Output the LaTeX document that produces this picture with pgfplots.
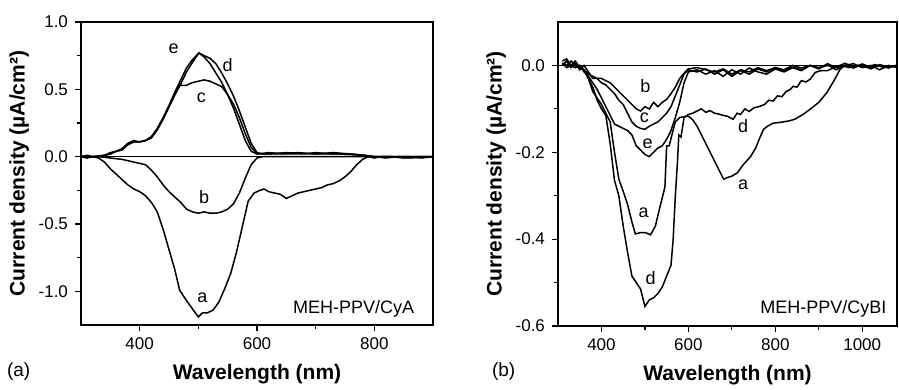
\documentclass[border=0pt]{standalone}
\usepackage{fontspec}
\setmainfont{Liberation Sans}
\usepackage{pgfplots}
\pgfplotsset{compat=1.18}
\begin{document}
\begin{tikzpicture}
\pgfplotsset{
  curve/.style={black, solid, line width=0.75pt, mark=none},
  common/.style={
    scale only axis,
    axis line style={black, line width=0.6pt},
    tick align=outside,
    xtick pos=bottom, ytick pos=left,
    major tick length=3pt, minor tick length=2pt,
    tick style={black, line width=0.6pt},
    tick label style={font=\fontsize{8.5}{10}\selectfont},
    label style={font=\fontsize{10.5}{12}\selectfont\bfseries},
    /pgf/number format/assume math mode=true,
    /pgf/number format/1000 sep={},
    clip=false,
  },
}
\path[use as bounding box] (0pt,0pt) rectangle (449.5pt,195pt);
% ---------------- panel (a) ----------------
\begin{axis}[common,
  at={(40.5pt,32.5pt)}, anchor=south west,
  width=176pt, height=151.5pt,
  xmin=300, xmax=900, ymin=-1.25, ymax=1.0,
  xtick={400,600,800}, minor xtick={500,700},
  ytick={-1,-0.5,0,0.5,1}, yticklabels={-1.0,-0.5,0.0,0.5,1.0},
  minor ytick={-0.75,-0.25,0.25,0.75},
  xlabel={Wavelength (nm)},
  ylabel={Current density (µA/cm²)},
  ylabel style={yshift=-2pt},
]
\addplot[black, line width=0.5pt, mark=none] coordinates {(300,0) (900,0)};
% e
\addplot[curve] coordinates {(300,0.00) (310,-0.01) (320,0.00) (330,0.00) (340,0.01) (350,0.03) (360,0.04) (370,0.06) (380,0.10) (390,0.12) (400,0.11) (410,0.12) (420,0.15) (430,0.21) (440,0.29) (450,0.38) (460,0.48) (470,0.57) (480,0.66) (490,0.72) (501,0.77) (510,0.74) (520,0.69) (530,0.62) (540,0.55) (550,0.46) (560,0.36) (570,0.24) (580,0.12) (590,0.04) (600,0.02) (620,0.03) (650,0.02) (680,0.02) (700,0.03) (730,0.02) (760,0.02) (780,0.01) (800,0.00) (820,-0.01) (840,0.00) (860,0.00) (880,-0.01) (900,0.00)};
% d
\addplot[curve] coordinates {(300,0.00) (320,0.00) (340,0.01) (350,0.02) (360,0.04) (370,0.05) (380,0.09) (390,0.11) (400,0.11) (410,0.12) (420,0.14) (430,0.20) (440,0.28) (450,0.37) (460,0.46) (470,0.54) (480,0.63) (490,0.70) (501,0.77) (510,0.75) (520,0.73) (530,0.69) (540,0.62) (550,0.54) (560,0.45) (570,0.34) (580,0.22) (590,0.10) (600,0.03) (610,0.02) (640,0.02) (670,0.03) (700,0.02) (730,0.03) (760,0.02) (785,0.01) (800,0.00) (830,0.00) (860,-0.01) (900,0.00)};
% c
\addplot[curve] coordinates {(300,0.00) (320,0.00) (340,0.01) (350,0.02) (360,0.04) (370,0.05) (380,0.09) (390,0.11) (400,0.11) (410,0.12) (420,0.14) (430,0.20) (440,0.28) (450,0.37) (460,0.46) (468,0.53) (480,0.53) (490,0.55) (500,0.56) (510,0.57) (520,0.56) (530,0.54) (540,0.52) (550,0.46) (560,0.39) (570,0.29) (580,0.17) (590,0.07) (600,0.02) (620,0.02) (650,0.03) (700,0.02) (740,0.02) (780,0.01) (800,0.00) (850,0.00) (900,0.00)};
% b
\addplot[curve] coordinates {(300,0.00) (330,0.00) (350,-0.01) (370,-0.02) (380,-0.03) (390,-0.04) (400,-0.05) (410,-0.06) (420,-0.10) (430,-0.15) (440,-0.21) (450,-0.26) (460,-0.30) (470,-0.34) (480,-0.39) (490,-0.41) (500,-0.42) (510,-0.41) (520,-0.42) (530,-0.42) (540,-0.41) (550,-0.39) (560,-0.35) (570,-0.27) (580,-0.16) (590,-0.06) (600,-0.01) (610,0.00) (650,0.00) (700,0.00) (800,0.00) (900,0.00)};
% a
\addplot[curve] coordinates {(300,0.00) (310,0.01) (320,0.00) (330,-0.01) (340,-0.04) (350,-0.09) (360,-0.13) (370,-0.17) (380,-0.21) (390,-0.24) (400,-0.26) (410,-0.29) (420,-0.34) (430,-0.41) (440,-0.54) (450,-0.69) (460,-0.84) (468,-0.99) (480,-1.07) (490,-1.13) (500,-1.19) (507,-1.16) (515,-1.16) (525,-1.14) (535,-1.08) (545,-0.98) (555,-0.87) (565,-0.71) (575,-0.52) (585,-0.33) (595,-0.27) (605,-0.25) (612,-0.24) (620,-0.26) (630,-0.27) (640,-0.28) (650,-0.31) (660,-0.29) (670,-0.27) (680,-0.26) (690,-0.25) (700,-0.24) (710,-0.23) (720,-0.21) (730,-0.20) (740,-0.18) (750,-0.15) (760,-0.11) (770,-0.06) (780,-0.02) (790,0.00) (800,-0.01) (810,0.00) (830,0.00) (850,-0.01) (870,0.00) (900,0.00)};
\node[font=\fontsize{9}{10}\selectfont] at (axis cs:458,0.80) {e};
\node[font=\fontsize{9}{10}\selectfont] at (axis cs:550,0.68) {d};
\node[font=\fontsize{9}{10}\selectfont] at (axis cs:505,0.44) {c};
\node[font=\fontsize{9}{10}\selectfont] at (axis cs:510,-0.30) {b};
\node[font=\fontsize{9}{10}\selectfont] at (axis cs:507,-1.05) {a};
\node[font=\fontsize{9}{10}\selectfont, anchor=east] at (axis cs:880,-1.13) {MEH-PPV/CyA};
\end{axis}
% ---------------- panel (b) ----------------
\begin{axis}[common,
  at={(279pt,32pt)}, anchor=south west,
  width=169.5pt, height=152pt,
  xmin=300, xmax=1080, ymin=-0.6, ymax=0.1,
  xtick={400,600,800,1000}, xticklabels={400,600,800,1000}, minor xtick={500,700,900},
  ytick={-0.6,-0.4,-0.2,0}, yticklabels={-0.6,-0.4,-0.2,0.0},
  minor ytick={-0.5,-0.3,-0.1},
  xlabel={Wavelength (nm)},
  ylabel={Current density (µA/cm²)},
  ylabel style={yshift=-2pt},
]
\addplot[black, line width=0.5pt, mark=none] coordinates {(300,0) (1080,0)};
% b
\addplot[curve] coordinates {(310,0.00) (320,0.01) (330,-0.005) (340,0.005) (350,-0.01) (360,0.00) (370,-0.015) (380,-0.03) (390,-0.03) (400,-0.03) (410,-0.035) (420,-0.04) (430,-0.05) (440,-0.06) (450,-0.07) (460,-0.08) (470,-0.09) (480,-0.10) (490,-0.105) (500,-0.095) (510,-0.10) (520,-0.085) (530,-0.095) (540,-0.085) (550,-0.078) (560,-0.065) (570,-0.05) (580,-0.03) (590,-0.018) (600,-0.008) (620,-0.005) (640,-0.01) (660,-0.015) (680,-0.008) (700,-0.02) (720,-0.01) (740,-0.015) (760,-0.005) (780,-0.012) (800,-0.005) (820,-0.01) (840,0.00) (860,-0.006) (880,0.00) (900,-0.005) (920,0.002) (940,-0.01) (960,0.00) (980,0.004) (1000,-0.005) (1020,0.00) (1040,-0.01) (1060,0.00) (1080,-0.005)};
% c
\addplot[curve] coordinates {(310,0.005) (320,-0.005) (330,0.00) (340,0.01) (350,-0.005) (360,-0.01) (370,-0.02) (380,-0.025) (390,-0.03) (400,-0.04) (410,-0.045) (420,-0.055) (430,-0.065) (440,-0.08) (450,-0.09) (460,-0.11) (470,-0.13) (480,-0.14) (490,-0.145) (500,-0.147) (510,-0.14) (520,-0.135) (530,-0.13) (540,-0.12) (550,-0.11) (560,-0.095) (570,-0.07) (580,-0.045) (590,-0.02) (600,-0.01) (620,-0.015) (640,-0.008) (660,-0.02) (680,-0.01) (700,-0.025) (720,-0.012) (740,-0.02) (760,-0.008) (780,-0.015) (800,-0.005) (820,-0.012) (840,-0.004) (860,-0.01) (880,0.00) (900,-0.008) (920,0.004) (940,-0.005) (960,0.00) (980,-0.006) (1000,0.003) (1020,-0.004) (1040,0.00) (1060,-0.006) (1080,0.00)};
% e
\addplot[curve] coordinates {(310,0.00) (320,0.01) (330,0.00) (340,-0.005) (350,0.00) (360,-0.015) (370,-0.025) (380,-0.04) (390,-0.055) (400,-0.075) (410,-0.095) (420,-0.115) (430,-0.135) (440,-0.14) (450,-0.145) (460,-0.15) (470,-0.16) (480,-0.185) (490,-0.195) (500,-0.205) (510,-0.21) (520,-0.20) (530,-0.19) (540,-0.185) (550,-0.17) (560,-0.15) (570,-0.12) (580,-0.085) (590,-0.04) (600,-0.015) (620,-0.01) (640,-0.02) (660,-0.012) (680,-0.025) (700,-0.01) (720,-0.02) (740,-0.006) (760,-0.015) (780,-0.02) (800,-0.008) (820,-0.015) (840,-0.005) (860,-0.012) (880,0.00) (900,-0.006) (920,0.00) (940,-0.004) (960,0.005) (980,-0.003) (1000,0.00) (1020,-0.008) (1040,0.002) (1060,-0.004) (1080,0.00)};
% d
\addplot[curve] coordinates {(310,0.005) (320,0.00) (330,0.01) (340,0.00) (350,-0.005) (360,-0.01) (370,-0.03) (380,-0.05) (390,-0.08) (400,-0.10) (410,-0.115) (420,-0.18) (430,-0.265) (440,-0.30) (450,-0.37) (460,-0.43) (470,-0.485) (480,-0.50) (490,-0.515) (500,-0.555) (510,-0.54) (520,-0.535) (530,-0.525) (540,-0.51) (550,-0.485) (560,-0.46) (565,-0.40) (570,-0.30) (575,-0.22) (578,-0.16) (583,-0.165) (590,-0.12) (600,-0.113) (610,-0.11) (620,-0.105) (630,-0.10) (640,-0.108) (650,-0.104) (660,-0.11) (670,-0.112) (680,-0.115) (690,-0.117) (703,-0.124) (712,-0.11) (720,-0.113) (730,-0.10) (740,-0.106) (750,-0.098) (765,-0.094) (775,-0.09) (785,-0.08) (795,-0.082) (805,-0.07) (815,-0.072) (825,-0.06) (835,-0.055) (841,-0.048) (850,-0.05) (860,-0.035) (870,-0.038) (880,-0.032) (892,-0.016) (905,-0.012) (920,-0.012) (935,-0.005) (950,0.00) (970,-0.005) (990,0.00) (1010,-0.004) (1030,0.002) (1050,-0.005) (1080,0.00)};
% a
\addplot[curve] coordinates {(310,0.01) (320,0.015) (330,0.00) (340,-0.005) (350,0.00) (360,-0.01) (370,-0.03) (380,-0.06) (390,-0.075) (400,-0.09) (410,-0.11) (420,-0.13) (430,-0.20) (440,-0.262) (450,-0.29) (460,-0.32) (470,-0.36) (478,-0.388) (490,-0.385) (501,-0.385) (513,-0.39) (524,-0.37) (536,-0.32) (546,-0.28) (550,-0.185) (556,-0.185) (562,-0.16) (570,-0.13) (580,-0.12) (590,-0.118) (600,-0.117) (610,-0.125) (620,-0.14) (630,-0.16) (640,-0.18) (650,-0.20) (660,-0.22) (670,-0.24) (681,-0.262) (690,-0.258) (700,-0.255) (713,-0.247) (725,-0.23) (743,-0.21) (755,-0.19) (765,-0.165) (773,-0.147) (782,-0.14) (795,-0.133) (812,-0.131) (830,-0.128) (845,-0.124) (865,-0.112) (880,-0.101) (900,-0.085) (919,-0.062) (935,-0.035) (949,-0.009) (960,0.00) (980,-0.004) (1000,0.003) (1020,-0.005) (1040,0.00) (1060,-0.003) (1080,0.00)};
\node[font=\fontsize{9}{10}\selectfont] at (axis cs:501,-0.048) {b};
\node[font=\fontsize{9}{10}\selectfont] at (axis cs:499,-0.12) {c};
\node[font=\fontsize{9}{10}\selectfont] at (axis cs:506,-0.18) {e};
\node[font=\fontsize{9}{10}\selectfont] at (axis cs:726,-0.14) {d};
\node[font=\fontsize{9}{10}\selectfont] at (axis cs:726,-0.274) {a};
\node[font=\fontsize{9}{10}\selectfont] at (axis cs:497,-0.34) {a};
\node[font=\fontsize{9}{10}\selectfont] at (axis cs:513,-0.49) {d};
\node[font=\fontsize{9}{10}\selectfont, anchor=east] at (axis cs:1072,-0.56) {MEH-PPV/CyBI};
\end{axis}
\node[anchor=west, font=\fontsize{9.5}{11}\selectfont] at (0pt,9pt) {(a)};
\node[anchor=west, font=\fontsize{9.5}{11}\selectfont] at (242.5pt,9pt) {(b)};
\end{tikzpicture}
\end{document}
